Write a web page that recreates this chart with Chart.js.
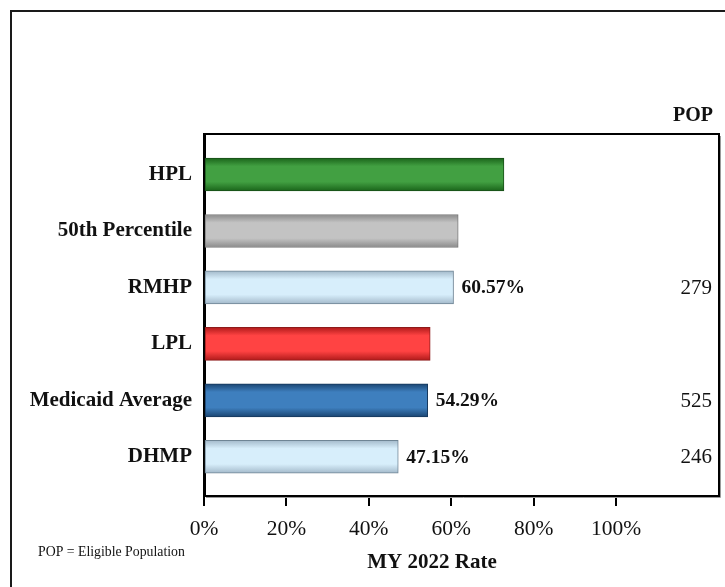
<!DOCTYPE html>
<html>
<head>
<meta charset="utf-8">
<script src="https://cdn.jsdelivr.net/npm/chart.js@4/dist/chart.umd.min.js"></script>
<style>
  html, body { margin: 0; padding: 0; background: #fff; }
  #wrap { width: 725px; height: 587px; }
</style>
</head>
<body>
<div id="wrap"><canvas id="c" width="725" height="587"></canvas></div>
<script>
// ---- data ----
const categories = ['HPL', '50th Percentile', 'RMHP', 'LPL', 'Medicaid Average', 'DHMP'];
const rates = [72.8, 61.7, 60.57, 54.9, 54.29, 47.15];
const rateLabels = ['', '', '60.57%', '', '54.29%', '47.15%'];
const popValues = ['', '', '279', '', '525', '246'];
const xTickValues = [0, 20, 40, 60, 80, 100];
const axisTitle = 'MY 2022 Rate';
const popHeader = 'POP';
const footnote = 'POP = Eligible Population';

// ---- styles ----
const barStyles = [
  { edge: '#1a641a', mid: '#42a042', border: '#184f18' },
  { edge: '#8a8a8a', mid: '#c3c3c3', border: '#7a7a7a' },
  { edge: '#a3b9ca', mid: '#d7eefb', border: '#6f8595' },
  { edge: '#b01a1a', mid: '#ff4343', border: '#8e1a1a' },
  { edge: '#1a4572', mid: '#3e7fbe', border: '#17395e' },
  { edge: '#a3b9ca', mid: '#d7eefb', border: '#6f8595' }
];
const SERIF = '"Liberation Serif", "Times New Roman", serif';
const BAR_H = 33;

function barFill(ctx) {
  const st = barStyles[ctx.dataIndex] || barStyles[0];
  const chart = ctx.chart;
  const ys = chart.scales && chart.scales.y;
  if (!chart.chartArea || !ys) return st.mid;
  const c = ys.getPixelForValue(ctx.dataIndex);
  const g = chart.ctx.createLinearGradient(0, c - BAR_H / 2, 0, c + BAR_H / 2);
  g.addColorStop(0, st.edge);
  g.addColorStop(0.25, st.mid);
  g.addColorStop(0.72, st.mid);
  g.addColorStop(1, st.edge);
  return g;
}

const decor = {
  id: 'decor',
  beforeDraw(chart) {
    const ctx = chart.ctx;
    ctx.save();
    ctx.fillStyle = '#fff';
    ctx.fillRect(0, 0, chart.width, chart.height);
    ctx.strokeStyle = '#1a1a1a';
    ctx.lineWidth = 2;
    ctx.beginPath();
    ctx.moveTo(11, chart.height);
    ctx.lineTo(11, 11);
    ctx.lineTo(chart.width, 11);
    ctx.stroke();
    ctx.restore();
  },
  afterDraw(chart) {
    const ctx = chart.ctx;
    const a = chart.chartArea;
    ctx.save();
    // frame top & right
    ctx.strokeStyle = '#000';
    ctx.lineWidth = 2;
    ctx.beginPath();
    ctx.moveTo(a.left, a.top);
    ctx.lineTo(a.right, a.top);
    ctx.lineTo(a.right, a.bottom);
    ctx.stroke();
    ctx.strokeStyle = '#9a9a9a';
    ctx.lineWidth = 1;
    ctx.beginPath();
    ctx.moveTo(a.right + 1.5, a.top + 2);
    ctx.lineTo(a.right + 1.5, a.bottom + 1.5);
    ctx.lineTo(a.left + 2, a.bottom + 1.5);
    ctx.stroke();

    const meta = chart.getDatasetMeta(0);
    ctx.fillStyle = '#111';
    ctx.textBaseline = 'middle';
    meta.data.forEach((el, i) => {
      if (rateLabels[i]) {
        ctx.font = 'bold 19.5px ' + SERIF;
        ctx.textAlign = 'left';
        ctx.fillText(rateLabels[i], el.x + 8, el.y + 1);
      }
      if (popValues[i]) {
        ctx.font = '21px ' + SERIF;
        ctx.textAlign = 'right';
        ctx.fillText(popValues[i], 712, el.y + 1);
      }
    });
    // POP header
    ctx.font = 'bold 20px ' + SERIF;
    ctx.textAlign = 'right';
    ctx.fillText(popHeader, 713, 116);
    // axis title
    ctx.font = 'bold 21px ' + SERIF;
    ctx.textAlign = 'center';
    ctx.fillText(axisTitle, 432, 563);
    // footnote
    ctx.font = '13.8px ' + SERIF;
    ctx.textAlign = 'left';
    ctx.fillText(footnote, 38, 552);
    ctx.restore();
  }
};

new Chart(document.getElementById('c'), {
  type: 'bar',
  data: {
    datasets: [{
      data: rates.map((v, i) => ({ x: v, y: i })),
      backgroundColor: barFill,
      borderColor: (ctx) => (barStyles[ctx.dataIndex] || barStyles[0]).border,
      borderWidth: 1,
      borderSkipped: false,
      barThickness: BAR_H
    }]
  },
  options: {
    indexAxis: 'y',
    responsive: false,
    animation: false,
    layout: { padding: { top: 134, right: 6, left: 0, bottom: 0 } },
    plugins: { legend: { display: false }, tooltip: { enabled: false } },
    scales: {
      x: {
        type: 'linear',
        position: 'bottom',
        min: 0,
        max: 125,
        afterBuildTicks: (s) => { s.ticks = xTickValues.map(v => ({ value: v })); },
        afterFit: (s) => { s.height = 91; },
        ticks: {
          callback: (v) => v + '%',
          font: { family: SERIF, size: 21.5 },
          color: '#111',
          padding: 10
        },
        grid: { display: true, drawOnChartArea: false, drawTicks: true, tickLength: 10, color: '#000', lineWidth: 2 },
        border: { display: true, color: '#000', width: 2 }
      },
      y: {
        type: 'linear',
        reverse: true,
        offset: false,
        min: -0.7175,
        max: 5.695,
        afterBuildTicks: (s) => { s.ticks = categories.map((_, i) => ({ value: i })); },
        afterFit: (s) => { s.width = 204; },
        ticks: {
          callback: (v) => categories[v],
          font: { family: SERIF, size: 21, weight: 'bold' },
          color: '#111',
          padding: 12
        },
        grid: { display: false, offset: false, drawTicks: false, tickLength: 0 },
        border: { display: true, color: '#000', width: 3 }
      }
    }
  },
  plugins: [decor]
});
</script>
</body>
</html>
